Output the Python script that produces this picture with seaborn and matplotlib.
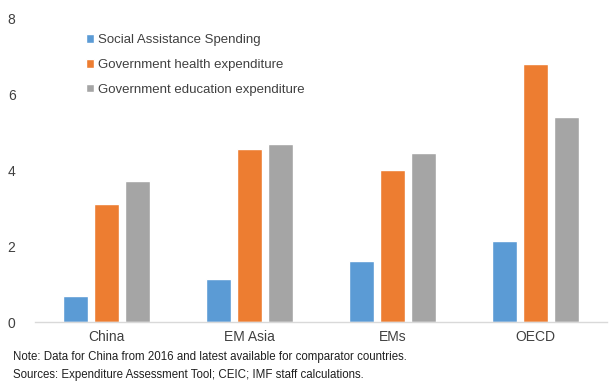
import matplotlib
matplotlib.use("Agg")
import matplotlib.pyplot as plt
import seaborn as sns
import pandas as pd

categories = ["China", "EM Asia", "EMs", "OECD"]
series_names = ["Social Assistance Spending", "Government health expenditure",
                "Government education expenditure"]
social = [0.68, 1.13, 1.60, 2.13]
health = [3.10, 4.55, 3.99, 6.79]
education = [3.71, 4.68, 4.45, 5.39]
yticks = [0, 2, 4, 6, 8]
note_lines = ["Note: Data for China from 2016 and latest available for comparator countries.",
              "Sources: Expenditure Assessment Tool; CEIC; IMF staff calculations."]

rows = []
for name, vals in zip(series_names, [social, health, education]):
    for c, v in zip(categories, vals):
        rows.append({"cat": c, "series": name, "value": v})
df = pd.DataFrame(rows)

sns.set_theme(style="white")
plt.rcParams['font.family'] = ['Liberation Sans', 'DejaVu Sans']

fig = plt.figure(figsize=(6.09, 3.82), dpi=100)
ax = fig.add_axes([35/609, 60/382, 572/609, 304/382])
palette = ["#5B9BD5", "#ED7D31", "#A5A5A5"]
sns.barplot(data=df, x="cat", y="value", hue="series", palette=palette,
            width=0.65, ax=ax, saturation=1, legend=True)

# shrink bars to leave small gaps
for p in ax.patches:
    w = p.get_width()
    if w > 0:
        nw = w * 25/31
        p.set_x(p.get_x() + (w - nw)/2)
        p.set_width(nw)

ax.set_ylim(0, 8)
ax.set_yticks(yticks)
ax.set_xlim(-0.5, 3.5)
ax.set_xlabel("")
ax.set_ylabel("")
for s in ["top", "right", "left"]:
    ax.spines[s].set_visible(False)
ax.spines["bottom"].set_color("#D9D9D9")
ax.spines["bottom"].set_linewidth(1.0)
ax.tick_params(axis="y", length=0, pad=14, labelsize=10, labelcolor="#404040")
ax.tick_params(axis="x", length=0, pad=6, labelsize=10, labelcolor="#404040")

leg = ax.legend(loc="upper left", bbox_to_anchor=(0.068, 0.985), frameon=False,
                fontsize=9.5, handlelength=0.65, handleheight=0.65, handletextpad=0.3,
                labelspacing=0.95, labelcolor="#404040")

fig.text(13/609, 1 - 357/382, note_lines[0], fontsize=8.3, color="#202020", va="center")
fig.text(13/609, 1 - 375/382, note_lines[1], fontsize=8.3, color="#202020", va="center")

fig.savefig("out.png", dpi=100)
